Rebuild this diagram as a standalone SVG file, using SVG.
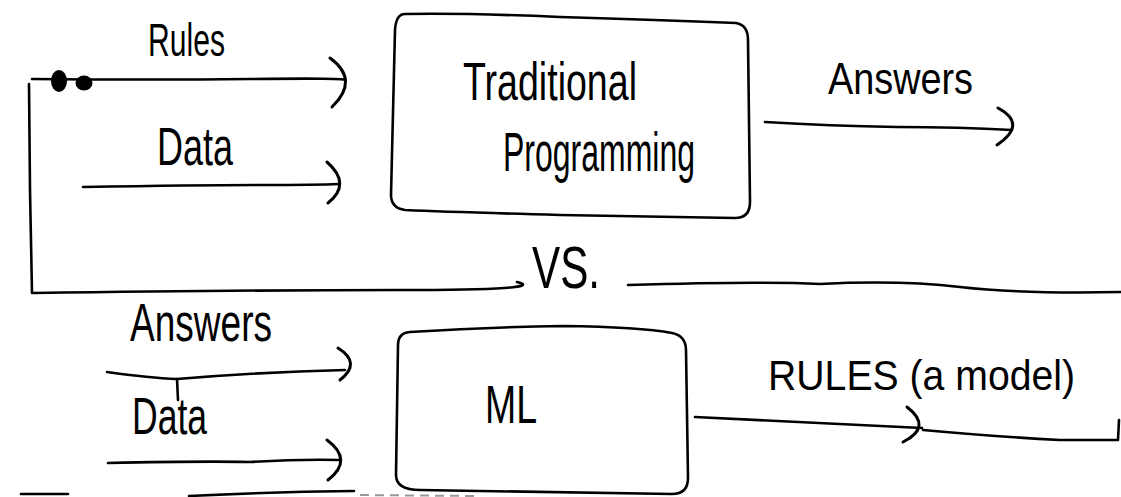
<svg xmlns="http://www.w3.org/2000/svg" width="1121" height="497" viewBox="0 0 1121 497">
<style>
  .ln{fill:none;stroke:#000;stroke-width:2.6;stroke-linecap:round;stroke-linejoin:round}
  .hd{fill:none;stroke:#000;stroke-width:3;stroke-linecap:round}
  .box{fill:none;stroke:#000;stroke-width:2.6;stroke-linejoin:round}
  .t{font-family:"Liberation Sans",Arial,sans-serif;fill:#000;font-weight:normal}
  .dash{fill:none;stroke:#999;stroke-width:2;stroke-dasharray:9 6}
</style>
<rect x="0" y="0" width="1121" height="497" fill="#fff"/>

<g id="traditional-programming">
  <path class="box" d="M405,14 Q470,13 560,17 Q660,20 736,23 Q748,25 748,40 L750,202 Q750,218 735,218 L560,215 Q450,212 405,210 Q391,208 391,195 L395,30 Q396,14 405,14 Z"/>
  <text class="t" x="463" y="100" font-size="54" textLength="174" lengthAdjust="spacingAndGlyphs">Traditional</text>
  <text class="t" x="503" y="171" font-size="56" textLength="192" lengthAdjust="spacingAndGlyphs">Programming</text>
</g>

<g id="ml">
  <path class="box" d="M410,332 Q490,327 563,326 Q640,327 672,333 Q686,336 686,350 L688,478 Q688,494 672,494 L420,490 Q396,490 396,475 L398,345 Q398,333 410,332 Z"/>
  <text class="t" x="485" y="423" font-size="54" textLength="52" lengthAdjust="spacingAndGlyphs">ML</text>
</g>

<g id="connectors">
  <!-- left loop and Rules input -->
  <path class="ln" d="M29,84 L30,190 L32,293"/>
  <path class="ln" d="M32,79 Q150,80 250,79 T345,80"/>
  <ellipse cx="59" cy="81" rx="8" ry="11" fill="#000"/>
  <ellipse cx="84" cy="83" rx="8.5" ry="7.5" fill="#000"/>
  <path class="hd" d="M330,58 Q360,80 332,107"/>
  <text class="t" x="148" y="56" font-size="46" textLength="77" lengthAdjust="spacingAndGlyphs">Rules</text>

  <!-- Data input (top) -->
  <path class="ln" d="M83,187 Q200,185 260,185 T338,184"/>
  <path class="hd" d="M327,162 Q352,184 328,203"/>
  <text class="t" x="157" y="165" font-size="54" textLength="76" lengthAdjust="spacingAndGlyphs">Data</text>

  <!-- Answers output (top) -->
  <path class="ln" d="M765,122 Q830,126 897,127 Q960,127 1012,130"/>
  <path class="hd" d="M998,108 Q1028,124 997,145"/>
  <text class="t" x="828" y="94" font-size="44" textLength="145" lengthAdjust="spacingAndGlyphs">Answers</text>

  <!-- Answers input (bottom) -->
  <path class="ln" d="M107,372 Q150,378 177,379 Q260,372 345,370"/>
  <path class="ln" d="M177,379 L178,400"/>
  <path class="hd" d="M338,348 Q362,363 340,380"/>
  <text class="t" x="130" y="341" font-size="54" textLength="142" lengthAdjust="spacingAndGlyphs">Answers</text>

  <!-- Data input (bottom) -->
  <path class="ln" d="M108,463 Q200,461 250,462 Q300,459 340,460"/>
  <path class="hd" d="M327,440 Q354,460 328,480"/>
  <text class="t" x="132" y="434" font-size="52" textLength="75" lengthAdjust="spacingAndGlyphs">Data</text>

  <!-- RULES output -->
  <path class="ln" d="M695,417 Q800,422 922,428"/>
  <path class="hd" d="M907,407 Q933,427 903,442"/>
  <path class="ln" d="M923,430 Q1000,437 1060,440 L1118,440 L1119,420"/>
  <text class="t" x="768" y="390" font-size="42" textLength="307" lengthAdjust="spacingAndGlyphs">RULES (a model)</text>
</g>

<g id="separator">
  <path class="ln" d="M33,293 Q250,290 400,290 T517,282"/>
  <path class="ln" d="M628,285 Q760,281 820,284 Q900,280 960,287 T1121,292"/>
  <text class="t" x="532" y="288" font-size="60" textLength="68" lengthAdjust="spacingAndGlyphs">VS.</text>
  <path class="ln" d="M21,494 L68,494" stroke-width="3.5"/>
  <path class="ln" d="M189,496 Q270,492 354,491" stroke-width="3"/>
  <path class="dash" d="M360,495 L475,496"/>
</g>
</svg>
